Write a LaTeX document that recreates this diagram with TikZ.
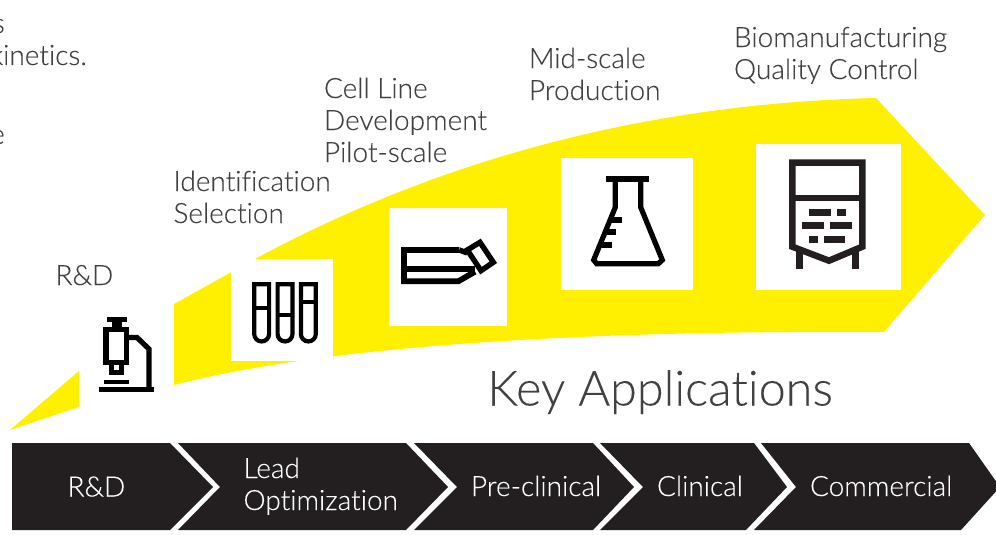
\documentclass[tikz,border=0pt]{standalone}
\usepackage{fontspec}
\setmainfont{Lato Light}[BoldFont=Lato,RawFeature={-liga;-dlig},FakeBold=0.15]
\definecolor{ylw}{HTML}{FFF000}
\definecolor{ink}{HTML}{231F20}
\definecolor{txt}{HTML}{414042}
\tikzset{
  chev/.style={fill=ink,draw=none},
  wbox/.style={fill=white,draw=none},
  icon/.style={draw=black,line width=5.2pt,miter limit=10,fill=none},
  dicon/.style={draw=ink,line width=6.5pt,fill=none},
  lab/.style={anchor=base west,text=txt,font=\fontsize{28}{32}\selectfont,align=left,inner sep=0pt,outer sep=0pt},
  wlab/.style={anchor=base west,text=white,font=\fontsize{28}{32}\selectfont,align=left,inner sep=0pt,outer sep=0pt},
}
\begin{document}
\begin{tikzpicture}[x=1pt,y=-1pt]
\useasboundingbox (0,0) rectangle (996,535);
\clip (0,0) rectangle (996,535);
% yellow
\fill[ylw] (10,430) -- (79,371) -- (79,407) -- cycle;
\fill[ylw] (174,304) -- (255,259) .. controls (455,151) and (666,103) .. (876,98)
  -- (985,215) -- (884,332) .. controls (540,330) and (310,350) .. (174,385) -- cycle;
% white boxes
\fill[wbox] (231,259) rectangle (333,361);
\fill[wbox] (389,208) rectangle (507,326);
\fill[wbox] (561,158) rectangle (693,290);
\fill[wbox] (756,144) rectangle (901,290);
% chevrons
\fill[chev] (12,443) -- (170,443) -- (213,487) -- (170,530) -- (12,530) -- cycle;
\fill[chev] (178,443) -- (406,443) -- (448,487) -- (406,530) -- (178,530) -- (220,487) -- cycle;
\fill[chev] (414,443) -- (593,443) -- (634,487) -- (593,530) -- (414,530) -- (457,487) -- cycle;
\fill[chev] (600,443) -- (754,443) -- (787,487) -- (746,530) -- (600,530) -- (643,487) -- cycle;
\fill[chev] (761,443) -- (969,443) -- (1000,487) -- (961,530) -- (754,530) -- (796,487) -- cycle;
% microscope
\draw[black,line width=4.7pt] (99,389.7) -- (154,389.7);
\draw[black,line width=4.5pt] (103.5,382.2) -- (129,382.2);
\fill[black] (106.7,316.7) rectangle (126.7,321.7);
\fill[black] (111.7,321.7) rectangle (121.7,327);
\draw[icon] (105.9,329.3) rectangle (126.4,362.7);
\fill[black] (109.3,365) rectangle (124.3,375);
\fill[white] (114,365) rectangle (119.3,370);
\draw[icon] (129,337.5) -- (137,337.5) -- (149,349) -- (149,389);
% tubes
\foreach \xl in {254.2,277.6,300.9}{
  \draw[black,line width=4.2pt] (\xl,284.3) -- (\xl,334) arc[start angle=180,end angle=360,radius=7.45pt] -- ++(0,-49.7) -- cycle;
}
\draw[black,line width=3.7pt] (254,308) -- (269,308);
\draw[black,line width=3.7pt] (277.6,315) -- (292.5,315);
\draw[black,line width=3.7pt] (300.9,301.7) -- (315.8,301.7);
% T-flask
\draw[black,line width=5.8pt] (459.3,250) -- (404,250) -- (404,281.3) -- (458.3,281.3) -- (475,271.7);
\draw[black,line width=5.8pt] (404,269.3) -- (475,269.3);
\draw[black,line width=5.4pt] (459.3,250) -- (467.3,253);
\draw[black,line width=5.4pt] (480,242.3) -- (493.3,262.3) -- (481,270.7) -- (467.3,250) -- cycle;
% erlenmeyer
\draw[black,line width=6.3pt] (606,179.2) -- (649.3,179.2);
\draw[icon] (615.3,182) -- (615.3,207.3) -- (593.7,260) -- (596.7,263.7) -- (658.3,263.7) -- (662.3,260) -- (640.7,207.3) -- (640.7,182);
\draw[black,line width=5.8pt] (610,220) -- (621.7,220);
\draw[black,line width=5.8pt] (605,232.3) -- (615.7,232.3);
\draw[black,line width=5.8pt] (600.7,245) -- (612.3,245);
% bioreactor
\draw[dicon] (792.3,246.7) -- (792.3,162.7) -- (862.3,162.7) -- (862.3,246.7) -- (829,260.7) -- cycle;
\draw[dicon] (792.3,198) -- (862.3,198);
\draw[dicon] (799.3,250) -- (799.3,268.7);
\draw[dicon] (855.7,250) -- (855.7,268.7);
\fill[ink] (809.3,208.7) rectangle (830.7,215.7);
\fill[ink] (837.3,208.7) rectangle (846,215.7);
\fill[ink] (802.3,222.3) rectangle (823.7,229);
\fill[ink] (830.3,222.3) rectangle (851.7,229);
\fill[ink] (808.7,236.3) rectangle (817.7,243.3);
\fill[ink] (824,236.3) rectangle (845.3,243.3);
% labels
\node[lab] (l1) at (55.5,285) {R\&D};
\node[lab] (l2) at (173.5,223) {Identification\\Selection};
\node[lab] (l3) at (324,162) {Cell Line\\Development\\Pilot-scale};
\node[lab] (l4) at (529,100) {Mid-scale\\Production};
\node[lab] (l5) at (734,79) {Biomanufacturing\\Quality Control};
\node[anchor=base west,text=txt,font=\fontsize{48.5}{52}\selectfont,inner sep=0pt] (k) at (487,405.5) {Key Applications};
\node[anchor=base east,text=txt,font=\fontsize{28}{32}\selectfont,inner sep=0pt] (c1) at (87,65) {kinetics.};
\node[anchor=base east,text=txt,font=\fontsize{28}{32}\selectfont,inner sep=0pt] (c2) at (5,33) {s};
\node[anchor=base east,text=txt,font=\fontsize{28}{32}\selectfont,inner sep=0pt] (c3) at (5,144) {e};
\node[wlab] (s1) at (67.5,496.5) {R\&D};
\node[wlab] (s2) at (243.5,510) {Lead\\Optimization};
\node[wlab] (s3) at (471,496) {Pre-clinical};
\node[wlab] (s4) at (657,496) {Clinical};
\node[wlab] (s5) at (810,496) {Commercial};
\end{tikzpicture}
\end{document}
